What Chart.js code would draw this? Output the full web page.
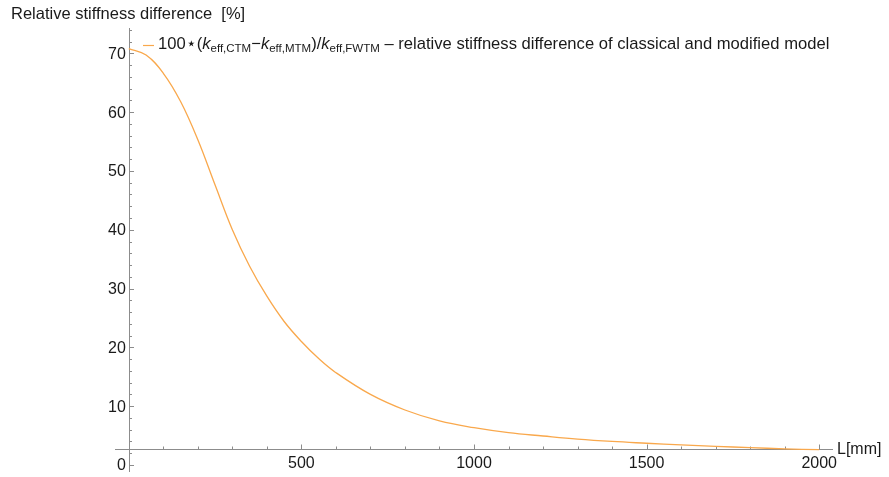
<!DOCTYPE html>
<html>
<head>
<meta charset="utf-8">
<script src="https://cdn.jsdelivr.net/npm/chart.js@4.4.1/dist/chart.umd.min.js"></script>
<style>
  html, body { margin: 0; padding: 0; background: #fff; }
  #wrap { width: 889px; height: 477px; }
</style>
</head>
<body>
<div id="wrap"><canvas id="stiffChart" width="889" height="477"></canvas></div>
<script>
// L [mm] and the relative stiffness difference [%]
var lengthMm = [0, 50, 100, 150, 200, 250, 300, 350, 400, 450, 500, 550, 600, 700, 800,
                900, 1000, 1100, 1200, 1300, 1400, 1500, 1600, 1700, 1800, 1900, 2000];
var relDiff  = [70.8, 69.7, 66.6, 61.8, 55.3, 47.6, 40.0, 33.8, 28.7, 24.4, 21.0, 18.1, 15.7, 12.0, 9.35,
                7.5, 6.35, 5.5, 4.93, 4.4, 4.0, 3.7, 3.42, 3.18, 2.95, 2.75, 2.6];

var xTicks = [500, 1000, 1500, 2000];
var yTicks = [0, 10, 20, 30, 40, 50, 60, 70];

var curveColor = "rgb(249,168,76)";
var axisColor = "#8c8c8c";
var textColor = "#1a1a1a";
var FONT = "'Liberation Sans', Arial, sans-serif";

// axes are drawn by hand, Mathematica style (y axis at L=0, x axis crossing near the curve minimum)
var mathAxes = {
  id: "mathAxes",
  beforeDatasetsDraw: function (chart) {
    var ctx = chart.ctx, xs = chart.scales.x, ys = chart.scales.y, ca = chart.chartArea;
    var x0 = xs.getPixelForValue(0);
    var yAx = Math.round(ys.getPixelForValue(2.7)) + 0.5;
    ctx.save();
    ctx.strokeStyle = axisColor;
    ctx.lineWidth = 1;
    ctx.beginPath();
    ctx.moveTo(Math.round(x0) + 0.5, ca.top);
    ctx.lineTo(Math.round(x0) + 0.5, ca.bottom);
    ctx.moveTo(ca.left, yAx);
    ctx.lineTo(ca.right, yAx);
    // y ticks, minor every 2
    for (var v = 0; v <= 74; v += 2) {
      var py = Math.round(ys.getPixelForValue(v)) + 0.5;
      var len = (v % 10 === 0) ? 5 : 3;
      ctx.moveTo(Math.round(x0), py);
      ctx.lineTo(Math.round(x0) + len, py);
    }
    // x ticks, minor every 100
    for (var u = 100; u <= 2000; u += 100) {
      var px = Math.round(xs.getPixelForValue(u)) + 0.5;
      var l2 = (u % 500 === 0) ? 5 : 3;
      ctx.moveTo(px, yAx);
      ctx.lineTo(px, yAx - l2);
    }
    ctx.stroke();

    ctx.fillStyle = textColor;
    ctx.font = "16px " + FONT;
    ctx.textAlign = "right";
    ctx.textBaseline = "middle";
    yTicks.forEach(function (t) {
      ctx.fillText(String(t), x0 - 3, ys.getPixelForValue(t) + 1);
    });
    ctx.textAlign = "center";
    ctx.textBaseline = "top";
    xTicks.forEach(function (t) {
      ctx.fillText(String(t), xs.getPixelForValue(t), yAx + 6);
    });
    ctx.textAlign = "left";
    ctx.textBaseline = "middle";
    ctx.fillText("L[mm]", ca.right + 4, yAx);
    ctx.restore();
  },
  afterDraw: function (chart) {
    var ctx = chart.ctx;
    ctx.save();
    ctx.fillStyle = textColor;
    ctx.textBaseline = "alphabetic";
    ctx.textAlign = "left";
    ctx.font = "16.5px " + FONT;
    ctx.fillText("Relative stiffness difference  [%]", 11, 19);

    // legend entry
    ctx.strokeStyle = curveColor;
    ctx.lineWidth = 1.2;
    ctx.beginPath();
    ctx.moveTo(143, 45.5);
    ctx.lineTo(154, 45.5);
    ctx.stroke();

    var base = 49, x = 158;
    var parts = [
      ["100", "n"], ["\u22C6", "n"], ["(", "n"], ["k", "i"], ["eff,CTM", "s"],
      ["\u2212", "n"], ["k", "i"], ["eff,MTM", "s"], [")/", "n"], ["k", "i"], ["eff,FWTM", "s"],
      [" \u2013 relative stiffness difference of classical and modified model", "n"]
    ];
    parts.forEach(function (p) {
      var dy = 0;
      if (p[1] === "i") ctx.font = "italic 16.6px " + FONT;
      else if (p[1] === "s") { ctx.font = "11.5px " + FONT; dy = 3; }
      else ctx.font = "16.6px " + FONT;
      ctx.fillText(p[0], x, base + dy);
      x += ctx.measureText(p[0]).width;
    });
    ctx.restore();
  }
};

var points = lengthMm.map(function (l, i) { return { x: l, y: relDiff[i] }; });

new Chart(document.getElementById("stiffChart"), {
  type: "line",
  data: {
    datasets: [{
      data: points,
      borderColor: curveColor,
      borderWidth: 1.3,
      pointRadius: 0,
      fill: false,
      tension: 0.4
    }]
  },
  options: {
    responsive: false,
    animation: false,
    layout: { padding: { left: 115, right: 56, top: 28, bottom: 5 } },
    plugins: { legend: { display: false }, tooltip: { enabled: false } },
    scales: {
      x: { type: "linear", min: -40, max: 2040, display: false },
      y: { type: "linear", min: -1.19, max: 74.3, display: false }
    }
  },
  plugins: [mathAxes]
});
</script>
</body>
</html>
